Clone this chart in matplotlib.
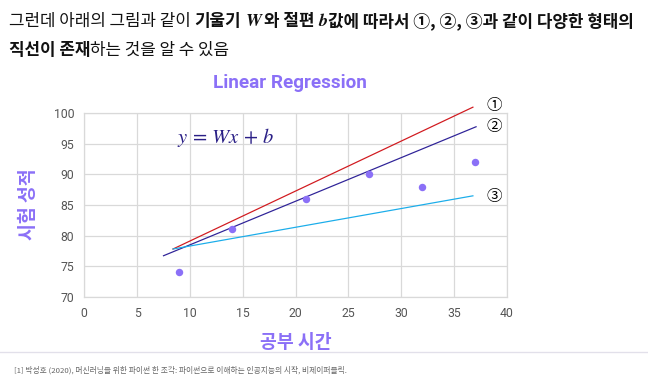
import matplotlib.pyplot as plt
from matplotlib.lines import Line2D

plt.rcParams['font.family'] = ['Noto Sans CJK KR', 'DejaVu Sans']
plt.rcParams['mathtext.fontset'] = 'stix'

# data
hours = [9, 14, 21, 27, 32, 37]
scores = [74, 81, 86, 90, 88, 92]
line_labels = ['①', '②', '③']
line_x = [[8.4, 36.8], [7.5, 37.1], [8.4, 36.8]]
line_y = [[77.8, 101.0], [76.7, 97.8], [77.8, 86.5]]
line_colors = ['#d11a1f', '#2f2398', '#1badea']
label_y = [101.2, 97.8, 86.4]

xticks = [0, 5, 10, 15, 20, 25, 30, 35, 40]
yticks = [70, 75, 80, 85, 90, 95, 100]

purple = '#8b70f7'

dpi = 80
W, H = 648, 384
fig = plt.figure(figsize=(W / dpi, H / dpi), dpi=dpi)

ax = fig.add_axes([84.3 / W, 1 - 296.7 / H, 422.4 / W, 183.4 / H])
ax.set_xlim(0, 40)
ax.set_ylim(70, 100)
ax.set_xticks(xticks)
ax.set_yticks(yticks)
ax.grid(True, color='#d9d9d9', linewidth=1.1)
ax.set_axisbelow(True)
for s in ax.spines.values():
    s.set_color('#d9d9d9')
    s.set_linewidth(1.1)
ax.tick_params(length=0, labelsize=11, labelcolor='#555555', pad=9)
for lab in ax.get_xticklabels() + ax.get_yticklabels():
    lab.set_family(['Roboto', 'DejaVu Sans'])

for xs, ys, c in zip(line_x, line_y, line_colors):
    ax.plot(xs, ys, color=c, linewidth=1.1, clip_on=False, zorder=3)
for lab, ly in zip(line_labels, label_y):
    ax.text(38.1, ly, lab, fontsize=14, color='black', va='center', ha='left')

ax.scatter(hours, scores, s=45, color=purple, zorder=4, linewidths=0)

ax.text(13.4, 96, r'$y\,=\,Wx\,+\,b$', fontsize=18.5, color='#2a1f86',
        ha='center', va='center')

fig.text(290 / W, 1 - 83 / H, 'Linear Regression', fontsize=17,
         fontweight='bold', color=purple, ha='center', va='center',
         family=['Roboto', 'DejaVu Sans'])
fig.text(28 / W, 1 - 204 / H, '시험 성적', fontsize=16.5, fontweight='bold',
         color=purple, rotation=90, ha='center', va='center')
fig.text(296 / W, 1 - 342 / H, '공부 시간', fontsize=16.5, fontweight='bold',
         color=purple, ha='center', va='center')

fig.add_artist(Line2D([0, 1], [1 - 352 / H, 1 - 352 / H], color='#e2e0ea',
                      linewidth=1.2, transform=fig.transFigure))
fig.text(14 / W, 1 - 370 / H,
         '[1] 박성호 (2020), 머신러닝을 위한 파이썬 한 조각: 파이썬으로 이해하는 인공지능의 시작, 비제이퍼블릭.',
         fontsize=7.0, color='#666666', ha='left', va='center')

# header with mixed weights
renderer = fig.canvas.get_renderer()
hdr_size = 15.2


def text_w(s, weight):
    t = fig.text(0, 0, s, fontsize=hdr_size, fontweight=weight)
    w = t.get_window_extent(renderer).width
    t.remove()
    return w


def put_line(pieces, x0, yc):
    x = x0
    for txt, weight in pieces:
        if txt == ' ':
            x += text_w('가 가', weight) - text_w('가가', weight)
            continue
        if txt.startswith('$'):
            t = fig.text(x / W, 1 - yc / H, txt, fontsize=hdr_size + 1,
                         color='#111111', va='center', ha='left')
        else:
            t = fig.text(x / W, 1 - yc / H, txt, fontsize=hdr_size,
                         fontweight=weight, color='#111111', va='center',
                         ha='left')
        x += t.get_window_extent(renderer).width


line1 = [('그런데 아래의 그림과 같이', 'normal'), (' ', 'normal'),
         ('기울기', 'bold'), (' ', 'bold'),
         (r'$\boldsymbol{W}$', 'bold'), ('와 절편', 'bold'), (' ', 'bold'),
         (r'$\boldsymbol{b}$', 'bold'),
         ('값에 따라서 ①, ②, ③과 같이 다양한 형태의', 'bold')]
line2 = [('직선이 존재', 'bold'), ('하는 것을 알 수 있음', 'normal')]

put_line(line1, 9, 21)
put_line(line2, 9, 50)

fig.savefig('out.png', dpi=dpi)
